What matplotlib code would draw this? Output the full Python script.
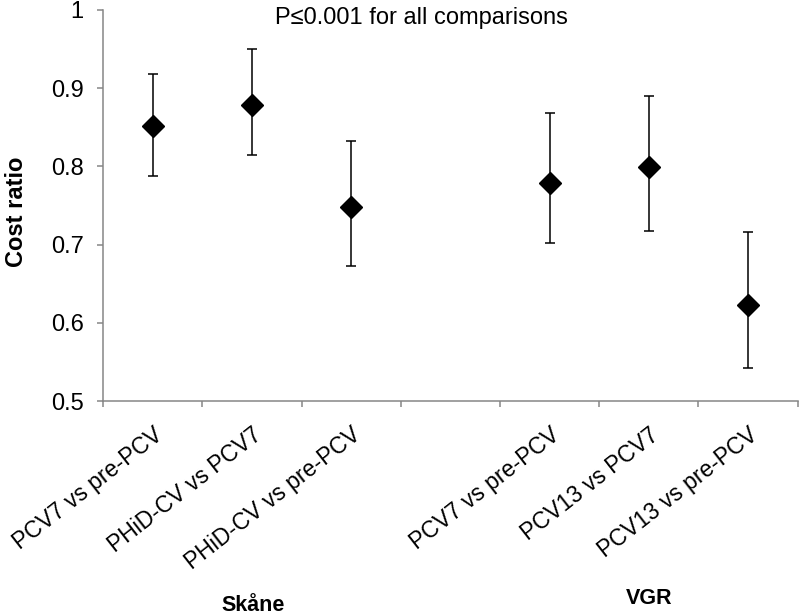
import numpy as np
import matplotlib.pyplot as plt

plt.rcParams['font.family'] = ['Liberation Sans', 'DejaVu Sans']

# data
labels = ['PCV7 vs pre-PCV', 'PHiD-CV vs PCV7', 'PHiD-CV vs pre-PCV', '',
          'PCV7 vs pre-PCV', 'PCV13 vs PCV7', 'PCV13 vs pre-PCV']
ratio = [0.851, 0.879, 0.748, np.nan, 0.779, 0.799, 0.623]
upper = [0.918, 0.950, 0.832, np.nan, 0.868, 0.890, 0.716]
lower = [0.788, 0.814, 0.672, np.nan, 0.702, 0.717, 0.542]
groups = ['Skåne', 'VGR']
yticks = [0.5, 0.6, 0.7, 0.8, 0.9, 1.0]
ytick_labels = ['0.5', '0.6', '0.7', '0.8', '0.9', '1']

ratio = np.array(ratio)
yerr = [ratio - np.array(lower), np.array(upper) - ratio]
x = np.arange(1, len(labels) + 1)

fig = plt.figure(figsize=(8, 6.16), dpi=100)
ax = fig.add_axes([0.129, 0.349, 0.868, 0.635])
axis_col = '#868686'

ax.errorbar(x, ratio, yerr=yerr, fmt='D', color='black', ms=11.5,
            ecolor='black', elinewidth=1.1, capsize=3.5, capthick=1.1)

ax.set_xlim(0.5, len(labels) + 0.5)
ax.set_ylim(0.5, 1.0)
ax.set_yticks(yticks)
ax.set_yticklabels(ytick_labels, fontsize=17)

# boundary ticks between categories, labels at category centres
ax.set_xticks(np.arange(0.5, len(labels) + 1, 1.0))
ax.set_xticklabels([])
ax.set_xticks(x, minor=True)
ax.set_xticklabels(labels, minor=True, rotation=38, ha='right', va='top',
                   rotation_mode='anchor', fontsize=16.5)
ax.tick_params(axis='x', which='minor', length=0, pad=16)
ax.tick_params(axis='x', which='major', length=4.5, width=1.1, color=axis_col)
ax.tick_params(axis='y', length=4.5, width=1.1, color=axis_col, pad=9.5)

for s in ['top', 'right']:
    ax.spines[s].set_visible(False)
for s in ['left', 'bottom']:
    ax.spines[s].set_color(axis_col)
    ax.spines[s].set_linewidth(1.1)

ax.set_ylabel('Cost ratio', fontsize=17, fontweight='bold')
ax.yaxis.set_label_coords(-0.108, 0.484)

fig.text(0.527, 0.970, 'P≤0.001 for all comparisons', fontsize=17,
         ha='center', va='center')
fig.text(0.316, 0.017, groups[0], fontsize=15.5, fontweight='bold',
         ha='center', va='center')
fig.text(0.811, 0.029, groups[1], fontsize=15.5, fontweight='bold',
         ha='center', va='center')

fig.savefig('out.png', dpi=100)
